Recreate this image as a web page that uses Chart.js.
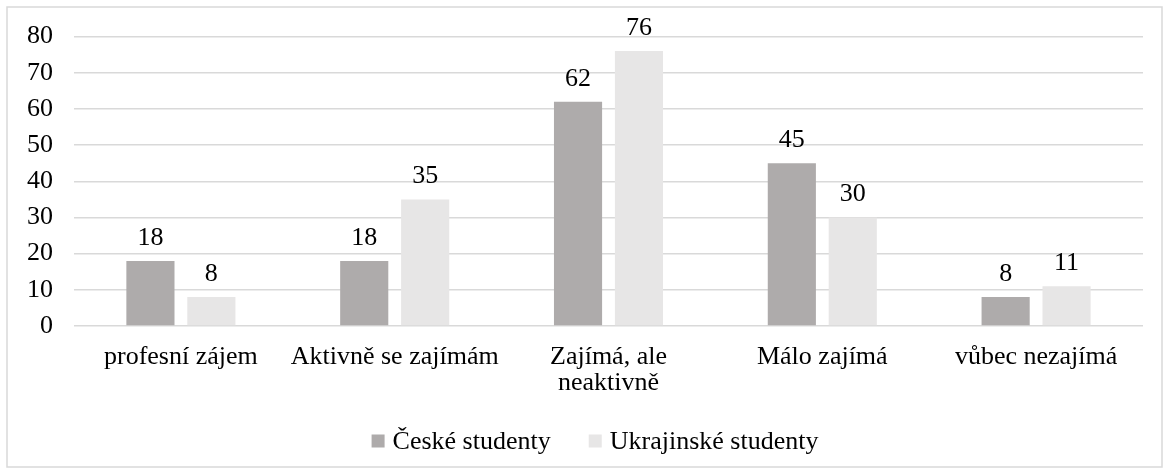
<!DOCTYPE html>
<html>
<head>
<meta charset="utf-8">
<script src="https://cdn.jsdelivr.net/npm/chart.js@4"></script>
<style>
html,body{margin:0;padding:0;background:#fff;}
#wrap{position:relative;width:1172px;height:474px;}
</style>
</head>
<body>
<div id="wrap"><canvas id="c" width="1172" height="474"></canvas></div>
<script>
const categories = ["profesní zájem", "Aktivně se zajímám", ["Zajímá, ale", "neaktivně"], "Málo zajímá", "vůbec nezajímá"];
const seriesNames = ["České studenty", "Ukrajinské studenty"];
const czechValues = [18, 18, 62, 45, 8];
const ukrainianValues = [8, 35, 76, 30, 11];
const yTicks = [0, 10, 20, 30, 40, 50, 60, 70, 80];
const seriesColors = ['#AEABAB', '#E7E6E6'];

const FONT = "'Liberation Serif', 'Times New Roman', serif";

const frame = {
  id: 'frame',
  beforeDraw(chart) {
    const ctx = chart.ctx;
    ctx.save();
    ctx.fillStyle = '#fff';
    ctx.fillRect(0, 0, chart.width, chart.height);
    ctx.strokeStyle = '#D9D9D9';
    ctx.lineWidth = 1.5;
    ctx.strokeRect(7, 7, 1155, 460);
    ctx.restore();
  }
};

const valueLabels = {
  id: 'valueLabels',
  afterDatasetsDraw(chart) {
    const ctx = chart.ctx;
    ctx.save();
    ctx.font = '26px ' + FONT;
    ctx.fillStyle = '#000';
    ctx.textAlign = 'center';
    ctx.textBaseline = 'alphabetic';
    chart.data.datasets.forEach((ds, i) => {
      const meta = chart.getDatasetMeta(i);
      meta.data.forEach((bar, j) => {
        ctx.fillText(String(ds.data[j]), bar.x, bar.y - 16);
      });
    });
    ctx.restore();
  }
};

const bottomLegend = {
  id: 'bottomLegend',
  afterDraw(chart) {
    const ctx = chart.ctx;
    ctx.save();
    ctx.font = '26px ' + FONT;
    ctx.textBaseline = 'middle';
    ctx.textAlign = 'left';
    const box = 13, gapBoxText = 8, gapItems = 38;
    const items = chart.data.datasets.map(ds => ({ text: ds.label, color: ds.backgroundColor, w: ctx.measureText(ds.label).width }));
    let total = 0;
    items.forEach((it, i) => { total += box + gapBoxText + it.w + (i < items.length - 1 ? gapItems : 0); });
    let x = 595 - total / 2;
    const cy = 441;
    items.forEach(it => {
      ctx.fillStyle = it.color;
      ctx.fillRect(x, cy - box / 2, box, box);
      x += box + gapBoxText;
      ctx.fillStyle = '#000';
      ctx.fillText(it.text, x, cy + 1);
      x += it.w + gapItems;
    });
    ctx.restore();
  }
};

new Chart(document.getElementById('c'), {
  type: 'bar',
  data: {
    labels: categories,
    datasets: [
      { label: seriesNames[0], data: czechValues, backgroundColor: seriesColors[0], categoryPercentage: 0.57, barPercentage: 0.79 },
      { label: seriesNames[1], data: ukrainianValues, backgroundColor: seriesColors[1], categoryPercentage: 0.57, barPercentage: 0.79 }
    ]
  },
  options: {
    responsive: false,
    animation: false,
    layout: { padding: { left: 20, right: 29, top: 28, bottom: 68 } },
    plugins: {
      legend: { display: false },
      tooltip: { enabled: false }
    },
    scales: {
      x: {
        grid: { display: false },
        border: { display: false },
        ticks: { color: '#000', font: { family: FONT, size: 26, lineHeight: 1.0 }, padding: 10, maxRotation: 0, autoSkip: false }
      },
      y: {
        min: 0, max: 80,
        afterBuildTicks(scale) { scale.ticks = yTicks.map(v => ({ value: v })); },
        afterFit(scale) { scale.width = 54; },
        grid: { color: '#D9D9D9', lineWidth: 1.5, drawTicks: false },
        border: { display: false },
        ticks: { color: '#000', font: { family: FONT, size: 26 }, padding: 21, autoSkip: false }
      }
    }
  },
  plugins: [frame, valueLabels, bottomLegend]
});
</script>
</body>
</html>
